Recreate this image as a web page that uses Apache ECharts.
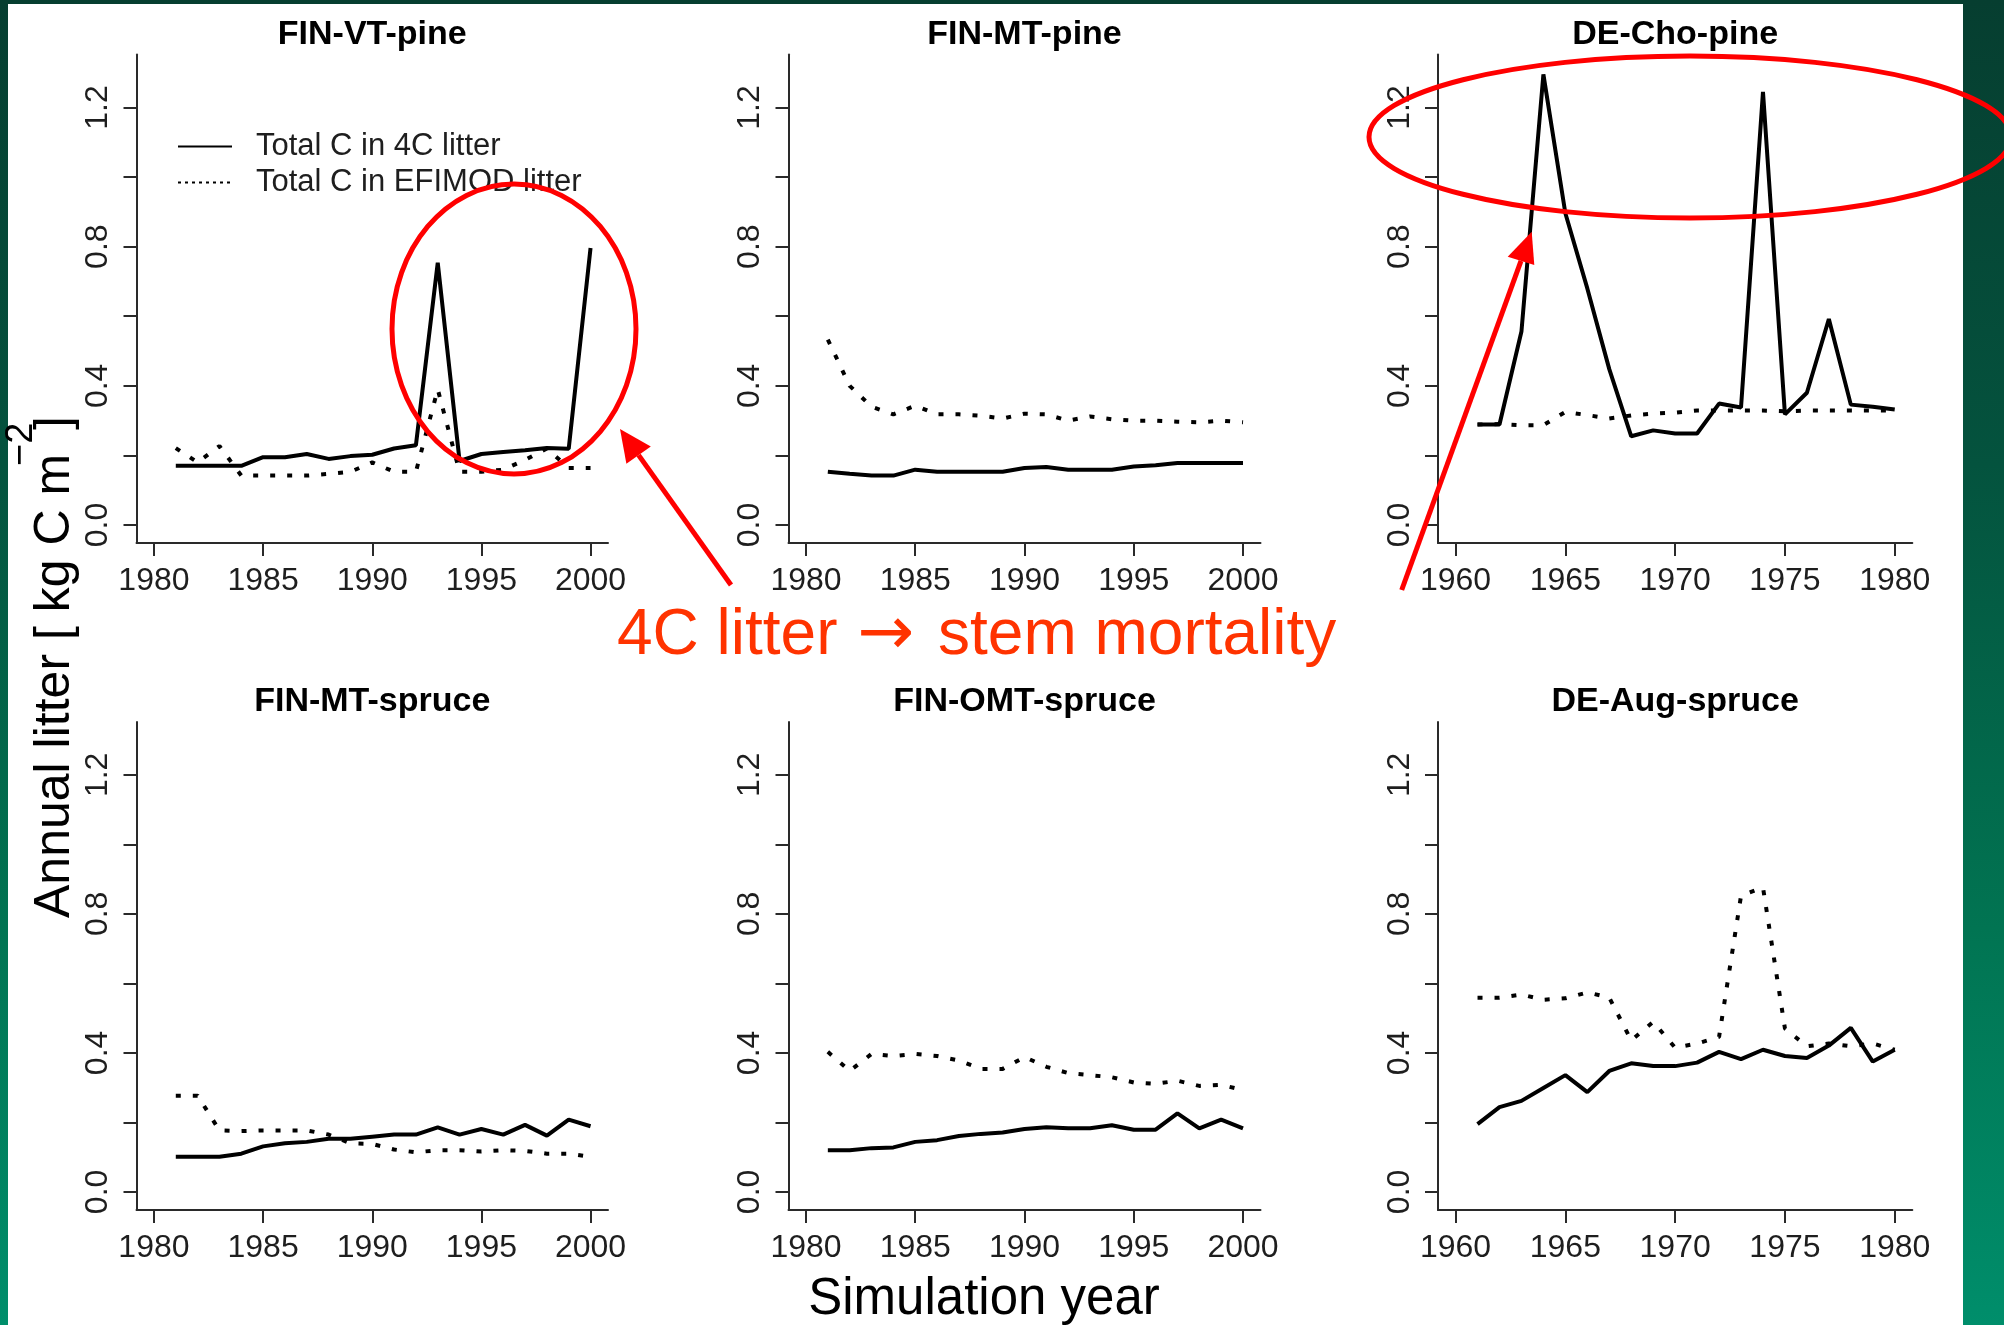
<!DOCTYPE html>
<html>
<head>
<meta charset="utf-8">
<script src="https://cdn.jsdelivr.net/npm/echarts@6/dist/echarts.min.js"></script>
<style>
html,body{margin:0;padding:0;width:2004px;height:1325px;overflow:hidden;}
body{background:linear-gradient(to bottom,#063e30 0%,#04533e 35%,#017452 70%,#008e6b 100%);position:relative;}
#sheet{position:absolute;left:8px;top:4px;width:1955px;height:1321px;background:#ffffff;}
#c{position:absolute;left:0;top:0;width:2004px;height:1325px;}
</style>
</head>
<body>
<div id="sheet"></div>
<div id="c"></div>
<script>
// ---------------- data ----------------
const panelTitles = ['FIN-VT-pine', 'FIN-MT-pine', 'DE-Cho-pine', 'FIN-MT-spruce', 'FIN-OMT-spruce', 'DE-Aug-spruce'];
const firstYears = [1981, 1981, 1961, 1981, 1981, 1961];
const xTicks1980s = [1980, 1985, 1990, 1995, 2000];
const xTicks1960s = [1960, 1965, 1970, 1975, 1980];
const yTicks = [0, 0.2, 0.4, 0.6, 0.8, 1.0, 1.2];
const yTickLabels = [0, 0.4, 0.8, 1.2];
const seriesNames = ['Total C in 4C litter', 'Total C in EFIMOD litter'];

const c4_FIN_VT_pine = [0.170, 0.170, 0.170, 0.170, 0.195, 0.195, 0.204, 0.190, 0.198, 0.202, 0.220, 0.229, 0.754, 0.184, 0.204, 0.210, 0.215, 0.221, 0.219, 0.796];
const ef_FIN_VT_pine = [0.221, 0.180, 0.227, 0.142, 0.142, 0.142, 0.142, 0.147, 0.153, 0.180, 0.153, 0.153, 0.390, 0.153, 0.153, 0.159, 0.187, 0.220, 0.164, 0.164];

const c4_FIN_MT_pine = [0.153, 0.147, 0.142, 0.142, 0.159, 0.153, 0.153, 0.153, 0.153, 0.164, 0.167, 0.159, 0.159, 0.159, 0.168, 0.172, 0.178, 0.178, 0.178, 0.178];
const ef_FIN_MT_pine = [0.533, 0.400, 0.340, 0.318, 0.343, 0.318, 0.318, 0.314, 0.306, 0.320, 0.318, 0.300, 0.312, 0.304, 0.300, 0.300, 0.297, 0.295, 0.300, 0.295];

const c4_DE_Cho_pine = [0.289, 0.289, 0.556, 1.295, 0.896, 0.680, 0.448, 0.255, 0.272, 0.263, 0.263, 0.349, 0.338, 1.245, 0.318, 0.380, 0.592, 0.346, 0.340, 0.332];
const ef_DE_Cho_pine = [0.289, 0.290, 0.287, 0.287, 0.325, 0.316, 0.306, 0.315, 0.320, 0.323, 0.329, 0.329, 0.329, 0.329, 0.327, 0.329, 0.329, 0.329, 0.329, 0.329];

const c4_FIN_MT_spruce = [0.101, 0.101, 0.101, 0.110, 0.131, 0.140, 0.144, 0.153, 0.153, 0.159, 0.165, 0.165, 0.186, 0.165, 0.181, 0.165, 0.193, 0.162, 0.208, 0.189];
const ef_FIN_MT_spruce = [0.277, 0.277, 0.177, 0.175, 0.177, 0.177, 0.177, 0.165, 0.140, 0.138, 0.122, 0.114, 0.120, 0.120, 0.116, 0.120, 0.118, 0.110, 0.110, 0.101];

const c4_FIN_OMT_spruce = [0.120, 0.120, 0.126, 0.128, 0.144, 0.149, 0.161, 0.167, 0.171, 0.181, 0.186, 0.183, 0.183, 0.192, 0.179, 0.179, 0.226, 0.183, 0.208, 0.183];
const ef_FIN_OMT_spruce = [0.403, 0.348, 0.397, 0.391, 0.397, 0.391, 0.378, 0.354, 0.354, 0.388, 0.360, 0.342, 0.336, 0.330, 0.315, 0.311, 0.320, 0.305, 0.308, 0.293];

const c4_DE_Aug_spruce = [0.195, 0.244, 0.262, 0.299, 0.336, 0.287, 0.348, 0.370, 0.362, 0.362, 0.372, 0.403, 0.382, 0.409, 0.391, 0.385, 0.421, 0.472, 0.375, 0.409];
const ef_DE_Aug_spruce = [0.559, 0.559, 0.568, 0.553, 0.557, 0.574, 0.559, 0.436, 0.489, 0.415, 0.427, 0.446, 0.852, 0.876, 0.470, 0.419, 0.427, 0.419, 0.427, 0.409];

// ---------------- layout ----------------
const FONT = '"Liberation Sans", Arial, Helvetica, sans-serif';
const gridLefts = [136.5, 788.5, 1438];
const gridWidths = [471.5, 472, 474.3];
const gridTops = [54.6, 722];
const gridHeights = [488.5, 488];
const titleY = [35, 701.5];
const AXIS_COLOR = '#2a2a2a';
const LABEL_COLOR = '#1e1e1e';

const panels = [
  { title: panelTitles[0], first: firstYears[0], ticks: xTicks1980s, c4: c4_FIN_VT_pine, ef: ef_FIN_VT_pine },
  { title: panelTitles[1], first: firstYears[1], ticks: xTicks1980s, c4: c4_FIN_MT_pine, ef: ef_FIN_MT_pine },
  { title: panelTitles[2], first: firstYears[2], ticks: xTicks1960s, c4: c4_DE_Cho_pine, ef: ef_DE_Cho_pine },
  { title: panelTitles[3], first: firstYears[3], ticks: xTicks1980s, c4: c4_FIN_MT_spruce, ef: ef_FIN_MT_spruce },
  { title: panelTitles[4], first: firstYears[4], ticks: xTicks1980s, c4: c4_FIN_OMT_spruce, ef: ef_FIN_OMT_spruce },
  { title: panelTitles[5], first: firstYears[5], ticks: xTicks1960s, c4: c4_DE_Aug_spruce, ef: ef_DE_Aug_spruce }
];

function txt(style) {
  const s = Object.assign({}, style);
  if (s.textAlign) s.align = s.textAlign;
  if (s.textVerticalAlign) s.verticalAlign = s.textVerticalAlign;
  return s;
}

const grid = [], xAxis = [], yAxis = [], series = [], graphic = [];
panels.forEach((p, i) => {
  const col = i % 3, row = Math.floor(i / 3);
  grid.push({ left: gridLefts[col], top: gridTops[row], width: gridWidths[col], height: gridHeights[row], containLabel: false });
  const lo = p.ticks[0], hi = p.ticks[p.ticks.length - 1], pad = (hi - lo) * 0.04;
  xAxis.push({
    type: 'value', gridIndex: i, min: lo - pad, max: hi + pad,
    splitLine: { show: false },
    axisLine: { show: true, onZero: false, lineStyle: { color: AXIS_COLOR, width: 2 } },
    axisTick: { show: true, inside: false, length: 13, customValues: p.ticks, lineStyle: { color: AXIS_COLOR, width: 2 } },
    axisLabel: { show: true, customValues: p.ticks, margin: 22, fontSize: 32, fontFamily: FONT, color: LABEL_COLOR, formatter: v => String(Math.round(v)) }
  });
  yAxis.push({
    type: 'value', gridIndex: i, min: -0.052, max: 1.352,
    splitLine: { show: false },
    axisLine: { show: true, onZero: false, lineStyle: { color: AXIS_COLOR, width: 2 } },
    axisTick: { show: true, inside: false, length: 13, customValues: yTicks, lineStyle: { color: AXIS_COLOR, width: 2 } },
    axisLabel: { show: true, customValues: yTickLabels, rotate: 90, margin: 22, fontSize: 32, fontFamily: FONT, color: LABEL_COLOR, formatter: v => Number(v).toFixed(1) }
  });
  series.push({
    name: seriesNames[0], type: 'line', xAxisIndex: i, yAxisIndex: i, silent: true,
    data: p.c4.map((v, k) => [p.first + k, v]), symbol: 'none',
    lineStyle: { color: '#000', width: 4, type: 'solid' }, itemStyle: { color: '#000' }
  });
  series.push({
    name: seriesNames[1], type: 'line', xAxisIndex: i, yAxisIndex: i, silent: true,
    data: p.ef.map((v, k) => [p.first + k, v]), symbol: 'none',
    lineStyle: { color: '#000', width: 4, type: [5, 12], cap: 'butt' }, itemStyle: { color: '#000' }
  });
  graphic.push({
    type: 'text', x: gridLefts[col] + gridWidths[col] / 2, y: titleY[row], z: 50,
    style: txt({ text: p.title, font: 'bold 34px ' + FONT, fill: '#000', textAlign: 'center', textVerticalAlign: 'middle' })
  });
});

// axis titles
graphic.push({
  type: 'text', x: 984, y: 1300, z: 50,
  style: txt({ text: 'Simulation year', font: '51px ' + FONT, fill: '#000', textAlign: 'center', textVerticalAlign: 'middle' })
});
graphic.push({
  type: 'text', x: 55, y: 918, rotation: Math.PI / 2, z: 50,
  style: txt({ text: 'Annual litter [ kg C m', font: '50px ' + FONT, fill: '#000', textAlign: 'left', textVerticalAlign: 'middle' })
});
graphic.push({
  type: 'text', x: 22, y: 466, rotation: Math.PI / 2, z: 50,
  style: txt({ text: '\u22122', font: '38px ' + FONT, fill: '#000', textAlign: 'left', textVerticalAlign: 'middle' })
});
graphic.push({
  type: 'text', x: 55, y: 430, rotation: Math.PI / 2, z: 50,
  style: txt({ text: ']', font: '50px ' + FONT, fill: '#000', textAlign: 'left', textVerticalAlign: 'middle' })
});

// red annotations
const RED = '#ff0000';
graphic.push({ type: 'ellipse', z: 60, shape: { cx: 514, cy: 329, rx: 122, ry: 145 }, style: { fill: 'none', stroke: RED, lineWidth: 5 } });
graphic.push({ type: 'ellipse', z: 60, shape: { cx: 1690, cy: 137, rx: 321, ry: 81 }, style: { fill: 'none', stroke: RED, lineWidth: 5 } });
graphic.push({ type: 'line', z: 60, shape: { x1: 731, y1: 585, x2: 638.6, y2: 455.1 }, style: { stroke: RED, lineWidth: 5 } });
graphic.push({ type: 'polygon', z: 60, shape: { points: [[620, 429], [650.8, 446.4], [626.4, 463.8]] }, style: { fill: RED } });
graphic.push({ type: 'line', z: 60, shape: { x1: 1401.7, y1: 590, x2: 1521, y2: 260.8 }, style: { stroke: RED, lineWidth: 5 } });
graphic.push({ type: 'polygon', z: 60, shape: { points: [[1531.7, 231.7], [1507.7, 256.7], [1534.3, 265]] }, style: { fill: RED } });
graphic.push({
  type: 'text', x: 617, y: 636, z: 60,
  style: txt({
    text: '{a|4C litter }{b|\u2192}{a| stem mortality}',
    textAlign: 'left', textVerticalAlign: 'middle',
    rich: {
      a: { fontSize: 64, fontFamily: FONT, fill: '#ff3300', color: '#ff3300', lineHeight: 72 },
      b: { fontSize: 68, fontFamily: '"DejaVu Sans", sans-serif', fill: '#ff3300', color: '#ff3300', lineHeight: 72, padding: [0, 6, 0, 2] }
    }
  })
});

const chart = echarts.init(document.getElementById('c'), null, { renderer: 'canvas', width: 2004, height: 1325 });
chart.setOption({
  animation: false,
  backgroundColor: 'transparent',
  grid: grid,
  xAxis: xAxis,
  yAxis: yAxis,
  series: series,
  legend: {
    show: true, orient: 'vertical', left: 172, top: 126, itemWidth: 54, itemHeight: 14, itemGap: 5,
    selectedMode: false,
    itemStyle: { opacity: 0 },
    data: [
      { name: seriesNames[0], lineStyle: { width: 2, type: 'solid', color: '#000' } },
      { name: seriesNames[1], lineStyle: { width: 2, type: [3, 4], color: '#000' } }
    ],
    formatter: n => '{g|}{t|' + n + '}',
    textStyle: {
      fontSize: 31, fontFamily: FONT, color: LABEL_COLOR,
      rich: { g: { width: 19 }, t: { fontSize: 31, fontFamily: FONT, color: LABEL_COLOR } }
    }
  },
  graphic: graphic
});
</script>
</body>
</html>
